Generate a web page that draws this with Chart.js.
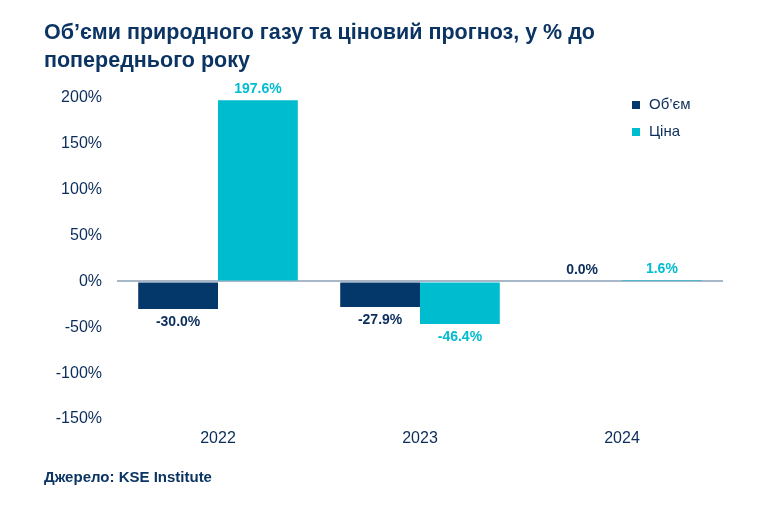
<!DOCTYPE html>
<html><head><meta charset="utf-8">
<script src="https://cdn.jsdelivr.net/npm/chart.js@4.4.1/dist/chart.umd.min.js"></script>
<style>
html,body{margin:0;padding:0;background:#fff;}
#wrap{position:relative;width:764px;height:505px;overflow:hidden;font-family:"Liberation Sans",Arial,sans-serif;}
#title{position:absolute;left:44px;top:18px;width:720px;font-weight:bold;font-size:21.5px;line-height:28px;color:#0b3463;white-space:nowrap;}
#source{position:absolute;left:44px;top:468px;font-weight:bold;font-size:15px;color:#0b3463;}
canvas{position:absolute;left:0;top:0;}
</style></head>
<body><div id="wrap">
<canvas id="c" width="764" height="505"></canvas>
<div id="title">Об’єми природного газу та ціновий прогноз, у % до<br>попереднього року</div>
<div id="source">Джерело: KSE Institute</div>
</div>
<script>
const categories = ["2022", "2023", "2024"];
const seriesNames = ["Об’єм", "Ціна"];
const volumeValues = [-30.0, -27.9, 0.0];
const priceValues = [197.6, -46.4, 1.6];
const yTicks = [200, 150, 100, 50, 0, -50, -100, -150];

const navy = "#05386a";
const cyan = "#00bccf";
const textColor = "#0b2d5b";

const labelPlugin = {
  id: "valueLabels",
  afterDatasetsDraw(chart) {
    const ctx = chart.ctx;
    ctx.save();
    ctx.font = "bold 14px 'Liberation Sans', Arial, sans-serif";
    ctx.textAlign = "center";
    chart.data.datasets.forEach((ds, i) => {
      const meta = chart.getDatasetMeta(i);
      meta.data.forEach((bar, j) => {
        const v = ds.data[j];
        ctx.fillStyle = i === 0 ? textColor : cyan;
        const txt = v.toFixed(1) + "%";
        if (v >= 0) {
          ctx.textBaseline = "bottom";
          ctx.fillText(txt, bar.x, bar.y - 4);
        } else {
          ctx.textBaseline = "top";
          ctx.fillText(txt, bar.x, bar.y + 6);
        }
      });
    });
    // legend
    ctx.font = "15px 'Liberation Sans', Arial, sans-serif";
    ctx.textAlign = "left";
    ctx.textBaseline = "middle";
    const lx = 632, ly = [105, 132];
    chart.data.datasets.forEach((ds, i) => {
      ctx.fillStyle = ds.backgroundColor;
      ctx.fillRect(lx, ly[i] - 4, 8, 8);
      ctx.fillStyle = textColor;
      ctx.fillText(ds.label, lx + 17, ly[i]);
    });
    ctx.restore();
  }
};

new Chart(document.getElementById("c"), {
  type: "bar",
  data: {
    labels: categories,
    datasets: [
      { label: seriesNames[0], data: volumeValues, backgroundColor: navy },
      { label: seriesNames[1], data: priceValues, backgroundColor: cyan }
    ]
  },
  options: {
    responsive: false,
    animation: false,
    layout: { padding: { left: 0, right: 41, top: 98, bottom: 0 } },
    plugins: { legend: { display: false }, tooltip: { enabled: false }, title: { display: false } },
    datasets: { bar: { barPercentage: 1, categoryPercentage: 0.79 } },
    scales: {
      x: {
        grid: { display: false, drawTicks: false },
        border: { display: false },
        ticks: { color: textColor, font: { size: 16, family: "'Liberation Sans', Arial, sans-serif" }, padding: 10 },
        afterFit(s) { s.height = 86; }
      },
      y: {
        min: -150, max: 200,
        afterBuildTicks(s) { s.ticks = yTicks.map(v => ({ value: v })); },
        grid: {
          drawTicks: false,
          color: c => (c.tick && c.tick.value === 0) ? "#a8b7c7" : "rgba(0,0,0,0)",
          lineWidth: c => (c.tick && c.tick.value === 0) ? 2 : 0
        },
        border: { display: false },
        ticks: {
          color: textColor,
          font: { size: 16, family: "'Liberation Sans', Arial, sans-serif" },
          padding: 15,
          callback: v => v + "%"
        },
        afterFit(s) { s.width = 117; }
      }
    }
  },
  plugins: [labelPlugin]
});
</script>
</body></html>
